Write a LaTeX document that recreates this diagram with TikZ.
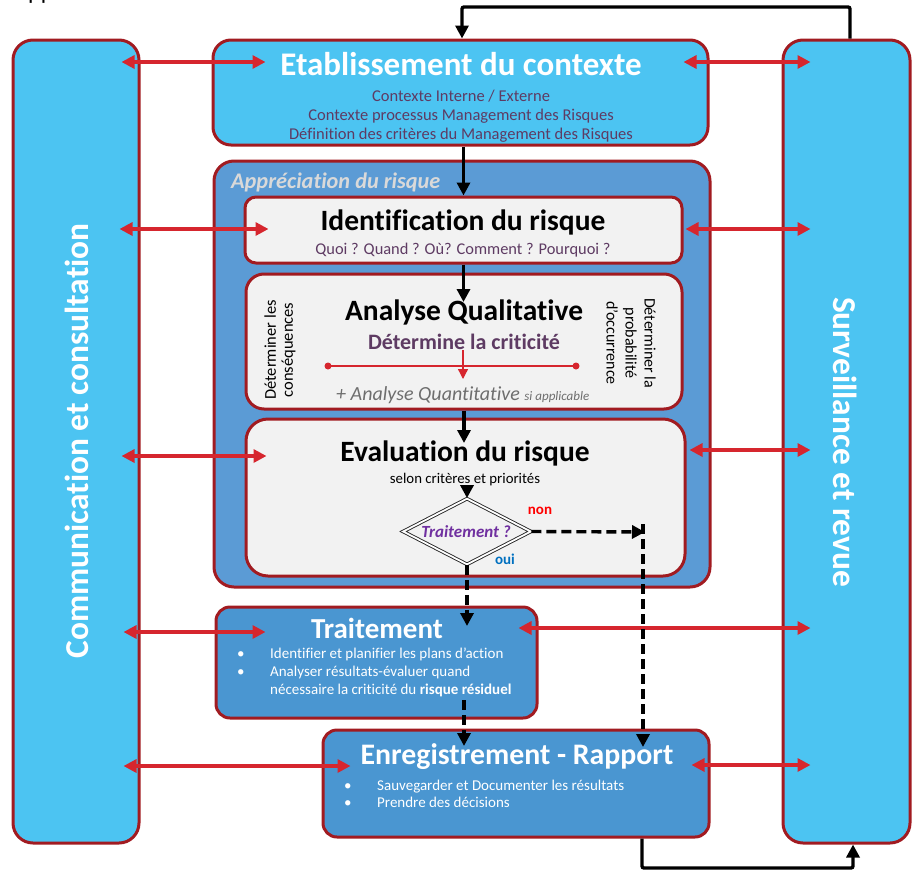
\documentclass[tikz,border=0pt]{standalone}
\usepackage{fontspec}
\setmainfont{Carlito}[Ligatures=NoCommon]
\usetikzlibrary{arrows.meta,shapes.geometric}

\definecolor{skyblue}{HTML}{4CC4F2}
\definecolor{midblue}{HTML}{5B9BD5}
\definecolor{boxblue}{HTML}{4A96D1}
\definecolor{darkred}{HTML}{A11B21}
\definecolor{arrred}{HTML}{D6262E}
\definecolor{panel}{HTML}{F2F2F2}
\definecolor{plum}{HTML}{5E3B63}
\definecolor{deepviolet}{HTML}{7030A0}
\definecolor{ouiblue}{HTML}{0070C0}
\definecolor{labelgray}{HTML}{D9D9D9}
\definecolor{quantgray}{HTML}{6E6E6E}

\newcommand{\fsz}[1]{\fontsize{#1}{1.2\dimexpr#1pt\relax}\selectfont}

\tikzset{
  frame/.style={draw=darkred, line width=3pt, inner sep=0pt},
  redarr/.style={draw=arrred, line width=3.2pt,
    {Triangle[length=13pt,width=13pt]}-{Triangle[length=13pt,width=13pt]}},
  blkarr/.style={draw=black, line width=3.4pt, -{Triangle[length=13pt,width=13pt]}},
  dasharr/.style={blkarr, dash pattern=on 10pt off 5pt},
  titlew/.style={text=white, font=\bfseries\fsz{30}, inner sep=0pt},
  titleb/.style={text=black, font=\bfseries\fsz{29.5}, inner sep=0pt},
}

\begin{document}
\begin{tikzpicture}[x=1pt,y=-1pt]
\useasboundingbox (0,0) rectangle (912,870);

% fragment of a heading above the frame
\node[anchor=base west, inner sep=0pt, font=\fsz{24}] (head) at (28,-1) {pp};

% ---- side bars ----
\node[frame, fill=skyblue, rounded corners=20pt, minimum width=126pt, minimum height=803pt] (comm) at (76,441.5) {};
\node[rotate=90, text=white, font=\bfseries\fsz{33.4}, inner sep=0pt] (commT) at (77,441) {Communication et consultation};

\node[frame, fill=skyblue, rounded corners=20pt, minimum width=127pt, minimum height=803pt] (surv) at (846.5,441.5) {};
\node[rotate=-90, text=white, font=\bfseries\fsz{33.4}, inner sep=0pt] (survT) at (845,442) {Surveillance et revue};

% ---- context ----
\node[frame, fill=skyblue, rounded corners=18pt, minimum width=495pt, minimum height=105pt] (etab) at (460.5,92.5) {};
\node[titlew, font=\bfseries\fsz{33}] (etabT) at (461,64) {Etablissement du contexte};
\node[text=plum, font=\fontsize{16.5}{19}\selectfont, align=center, inner sep=0pt] (etabS) at (461,116)
  {Contexte Interne / Externe\\Contexte processus Management des Risques\\Définition des critères du Management des Risques};

% ---- risk assessment frame ----
\node[frame, fill=midblue, rounded corners=20pt, minimum width=496pt, minimum height=426pt] (appr) at (462,374) {};
\node[anchor=west, text=labelgray, font=\bfseries\itshape\fsz{22.3}, inner sep=0pt] (apprT) at (231,182) {Appréciation du risque};

% identification
\node[frame, fill=panel, rounded corners=11pt, minimum width=437pt, minimum height=66pt] (ident) at (463.5,230) {};
\node[titleb] (identT) at (463,222) {Identification du risque};
\node[text=plum, font=\fsz{16.4}, inner sep=0pt] (identS) at (463,250) {Quoi ? Quand ? Où? Comment ? Pourquoi ?};

% analysis
\node[frame, fill=panel, rounded corners=18pt, minimum width=436pt, minimum height=135pt] (anal) at (464,341.5) {};
\node[titleb] (analT) at (464,312) {Analyse Qualitative};
\node[text=plum, font=\bfseries\fsz{22}, inner sep=0pt] (analS) at (464,342) {Détermine la criticité};
\node[rotate=90, align=center, font=\fontsize{16.5}{17}\selectfont, inner sep=0pt] (analL) at (280,350) {Déterminer les\\conséquences};
\node[rotate=-90, align=center, font=\fontsize{16}{19}\selectfont, inner sep=0pt] (analR) at (631,343) {Déterminer la\\probabilité\\d’occurrence};
\coordinate (scaleL) at (328,366);
\coordinate (scaleR) at (576,366);
\draw[arrred, line width=1.3pt] (scaleL) -- (scaleR);
\fill[arrred] (scaleL) circle (3.5pt) (scaleR) circle (3.5pt);
\draw[arrred, line width=1.3pt, -{Triangle[length=10pt,width=10pt]}] (analS.south -| 463,0) -- (463,379);
\node[anchor=west, text=quantgray, font=\itshape\fsz{20}, inner sep=0pt] (analQ) at (336,395)
  {+ Analyse Quantitative {\fsz{13}si applicable}};

% evaluation
\node[frame, fill=panel, rounded corners=22pt, minimum width=439pt, minimum height=157pt] (eval) at (465.5,497.5) {};
\node[titleb] (evalT) at (465,453) {Evaluation du risque};
\node[font=\fsz{14.8}, inner sep=0pt] (evalS) at (465,480) {selon critères et priorités};

\node[diamond, draw=black!85, line width=0.9pt, double=white, double distance=1.8pt, fill=panel,
      minimum width=128pt, minimum height=66pt, inner sep=0pt] (dec) at (467,531.5) {};
\node[text=deepviolet, font=\bfseries\itshape\fsz{17}, inner sep=0pt] (decT) at (466,532) {Traitement ?};
\node[text=red, font=\bfseries\fsz{15}, inner sep=0pt] (non) at (540,511) {non};
\node[text=ouiblue, font=\bfseries\fsz{15}, inner sep=0pt] (oui) at (505,559) {oui};

% ---- treatment ----
\node[frame, fill=boxblue, rounded corners=14pt, minimum width=321pt, minimum height=111pt] (trait) at (376.5,662.5) {};
\node[titlew, font=\bfseries\fsz{29}] (traitT) at (377,628) {Traitement};
\node[anchor=north west, text=white, inner sep=0pt, font=\fontsize{15}{18}\selectfont] (traitB) at (237,646)
  {\begin{tabular}{@{}p{33pt}@{}l@{}}
   \textbullet & Identifier et planifier les plans d’action\\
   \textbullet & Analyser résultats-évaluer quand\\
               & nécessaire la criticité du \textbf{risque résiduel}
   \end{tabular}};

% ---- recording ----
\node[frame, fill=boxblue, rounded corners=14pt, minimum width=386pt, minimum height=107pt] (enreg) at (516,783.5) {};
\node[titlew, font=\bfseries\fsz{29.8}] (enregT) at (517,757) {Enregistrement - Rapport};
\node[anchor=north west, text=white, inner sep=0pt, font=\fontsize{15}{16.5}\selectfont] (enregB) at (344,779)
  {\begin{tabular}{@{}p{33pt}@{}l@{}}
   \textbullet & Sauvegarder et Documenter les résultats\\
   \textbullet & Prendre des décisions
   \end{tabular}};

% ---- exchanges with the side bars ----
\draw[redarr] ([xshift=-19pt]comm.east |- 0,62) -- ([xshift=54pt]etab.west |- 0,62);
\draw[redarr] ([xshift=-26pt]etab.east |- 0,62) -- ([xshift=29pt]surv.west |- 0,62);
\draw[redarr] ([xshift=-21pt]comm.east |- 0,229) -- ([xshift=25pt]ident.west |- 0,229);
\draw[redarr] ([xshift=2pt]ident.east |- 0,229) -- ([xshift=29pt]surv.west |- 0,229);
\draw[redarr] ([xshift=-19pt]comm.east |- 0,456) -- ([xshift=22pt]eval.west |- 0,456);
\draw[redarr] ([xshift=3pt]eval.east |- 0,450) -- ([xshift=29pt]surv.west |- 0,450);
\draw[redarr] ([xshift=-17pt]comm.east |- 0,632) -- ([xshift=51pt]trait.west |- 0,632);
\draw[redarr] ([xshift=-20pt]trait.east |- 0,628) -- ([xshift=29pt]surv.west |- 0,628);
\draw[redarr] ([xshift=-17pt]comm.east |- 0,766) -- ([xshift=29pt]enreg.west |- 0,766);
\draw[redarr] ([xshift=-19pt]enreg.east |- 0,765) -- ([xshift=29pt]surv.west |- 0,765);

% ---- process flow ----
\draw[blkarr] (etab.south -| ident.north) -- (ident.north);
\draw[blkarr] (ident.south) -- (ident.south |- 0,302);
\draw[blkarr] (anal.south -| 464,0) -- (464,443);
\draw[blkarr] (evalS.south -| dec.north) -- (dec.north);
\draw[dasharr] (dec.south) -- (dec.south |- 0,626);
\coordinate (noTurn) at (645,532);
\draw[dasharr] (dec.east) -- (noTurn);
\draw[dasharr] ([yshift=8pt]noTurn -| 643,0) -- (643,747);
\draw[dasharr] (464,700) -- (464,746);

% ---- review loops ----
\draw[blkarr, rounded corners=2pt] (surv.north -| 850,0) -- (850,7) -- (462,7) -- (etab.north -| 462,0);
\draw[blkarr, rounded corners=2pt] (enreg.south -| 642,0) -- (642,868) -- (853,868) -- (surv.south -| 853,0);
\end{tikzpicture}
\end{document}
